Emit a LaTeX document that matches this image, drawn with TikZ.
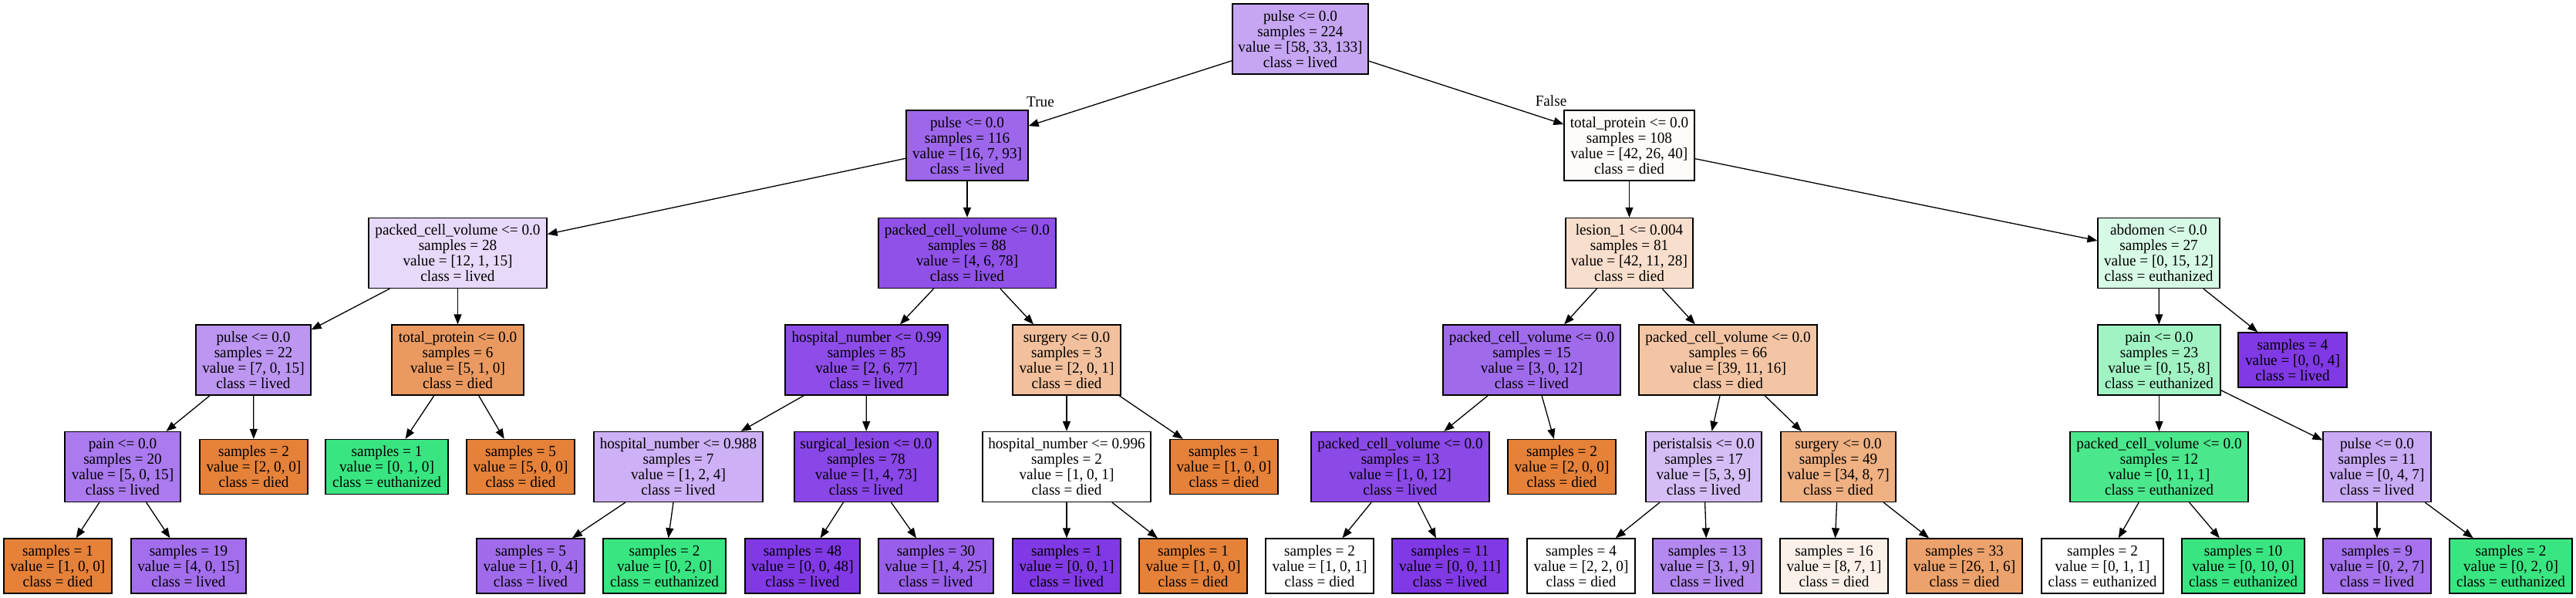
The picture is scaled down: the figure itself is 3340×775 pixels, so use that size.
\documentclass[tikz,border=0pt]{standalone}
\usepackage{fontspec}
\setmainfont{Liberation Serif}[FakeStretch=0.96]
\usetikzlibrary{arrows.meta}
\definecolor{died}{RGB}{229,129,57}
\definecolor{euth}{RGB}{57,229,129}
\definecolor{lived}{RGB}{129,57,229}
\newcommand\treefont{\fontsize{20}{20}\selectfont}
\begin{document}
\begin{tikzpicture}[x=1pt,y=-1pt,
  tbox/.style={draw=black, line width=1.3pt, rectangle, inner sep=0pt, align=center, font=\treefont, minimum height=91},
  leaf/.style={tbox, minimum height=71},
  edge/.style={line width=1.3pt, -{Triangle[length=13pt,width=10pt]}},
  elabel/.style={font=\treefont, inner sep=0pt}]
\useasboundingbox (0,0) rectangle (3340,775);
% level 0
\node[tbox, minimum width=176, fill=lived!45!white] (root) at (1686,50.5) {pulse <= 0.0\\samples = 224\\value = [58, 33, 133]\\class = lived};
% level 1
\node[tbox, minimum width=158, fill=lived!77!white] (A) at (1254,188.5) {pulse <= 0.0\\samples = 116\\value = [16, 7, 93]\\class = lived};
\node[tbox, minimum width=169, fill=died!3!white] (B) at (2112.5,188.5) {total\_protein <= 0.0\\samples = 108\\value = [42, 26, 40]\\class = died};
% level 2
\node[tbox, minimum width=231, fill=lived!19!white] (C) at (593.5,328) {packed\_cell\_volume <= 0.0\\samples = 28\\value = [12, 1, 15]\\class = lived};
\node[tbox, minimum width=230, fill=lived!88!white] (D) at (1254,328) {packed\_cell\_volume <= 0.0\\samples = 88\\value = [4, 6, 78]\\class = lived};
\node[tbox, minimum width=165, fill=died!26!white] (E) at (2112.5,328) {lesion\_1 <= 0.004\\samples = 81\\value = [42, 11, 28]\\class = died};
\node[tbox, minimum width=158, fill=euth!20!white] (F) at (2799,328) {abdomen <= 0.0\\samples = 27\\value = [0, 15, 12]\\class = euthanized};
% level 3
\node[tbox, minimum width=149, fill=lived!53!white] (G) at (328.5,466.5) {pulse <= 0.0\\samples = 22\\value = [7, 0, 15]\\class = lived};
\node[tbox, minimum width=171, fill=died!80!white] (H) at (593.5,466.5) {total\_protein <= 0.0\\samples = 6\\value = [5, 1, 0]\\class = died};
\node[tbox, minimum width=211, fill=lived!90!white] (I) at (1123.5,466.5) {hospital\_number <= 0.99\\samples = 85\\value = [2, 6, 77]\\class = lived};
\node[tbox, minimum width=140, fill=died!50!white] (J) at (1383,466.5) {surgery <= 0.0\\samples = 3\\value = [2, 0, 1]\\class = died};
\node[tbox, minimum width=230, fill=lived!75!white] (K) at (1986,466.5) {packed\_cell\_volume <= 0.0\\samples = 15\\value = [3, 0, 12]\\class = lived};
\node[tbox, minimum width=231, fill=died!46!white] (L) at (2240.5,466.5) {packed\_cell\_volume <= 0.0\\samples = 66\\value = [39, 11, 16]\\class = died};
\node[tbox, minimum width=159, fill=euth!47!white] (M) at (2799.5,466.5) {pain <= 0.0\\samples = 23\\value = [0, 15, 8]\\class = euthanized};
\node[leaf, minimum width=141, fill=lived] (N) at (2972.5,466.5) {samples = 4\\value = [0, 0, 4]\\class = lived};
% level 4
\node[tbox, minimum width=150, fill=lived!67!white] (O) at (159,605) {pain <= 0.0\\samples = 20\\value = [5, 0, 15]\\class = lived};
\node[leaf, minimum width=140, fill=died] (P) at (329,605) {samples = 2\\value = [2, 0, 0]\\class = died};
\node[leaf, minimum width=159, fill=euth] (Q) at (501.5,605) {samples = 1\\value = [0, 1, 0]\\class = euthanized};
\node[leaf, minimum width=140, fill=died] (R) at (675,605) {samples = 5\\value = [5, 0, 0]\\class = died};
\node[tbox, minimum width=219, fill=lived!40!white] (S) at (879.5,605) {hospital\_number <= 0.988\\samples = 7\\value = [1, 2, 4]\\class = lived};
\node[tbox, minimum width=186, fill=lived!93!white] (T) at (1123,605) {surgical\_lesion <= 0.0\\samples = 78\\value = [1, 4, 73]\\class = lived};
\node[tbox, minimum width=218, fill=white] (U) at (1383,605) {hospital\_number <= 0.996\\samples = 2\\value = [1, 0, 1]\\class = died};
\node[leaf, minimum width=140, fill=died] (V) at (1587,605) {samples = 1\\value = [1, 0, 0]\\class = died};
\node[tbox, minimum width=231, fill=lived!92!white] (W) at (1815.5,605) {packed\_cell\_volume <= 0.0\\samples = 13\\value = [1, 0, 12]\\class = lived};
\node[leaf, minimum width=140, fill=died] (X) at (2025,605) {samples = 2\\value = [2, 0, 0]\\class = died};
\node[tbox, minimum width=150, fill=lived!33!white] (Y) at (2209,605) {peristalsis <= 0.0\\samples = 17\\value = [5, 3, 9]\\class = lived};
\node[tbox, minimum width=149, fill=died!63!white] (Z) at (2383.5,605) {surgery <= 0.0\\samples = 49\\value = [34, 8, 7]\\class = died};
\node[tbox, minimum width=231, fill=euth!91!white] (AA) at (2799.5,605) {packed\_cell\_volume <= 0.0\\samples = 12\\value = [0, 11, 1]\\class = euthanized};
\node[tbox, minimum width=140, fill=lived!43!white] (AB) at (3082,605) {pulse <= 0.0\\samples = 11\\value = [0, 4, 7]\\class = lived};
% level 5
\node[leaf, minimum width=140, fill=died] (l1) at (75,733.5) {samples = 1\\value = [1, 0, 0]\\class = died};
\node[leaf, minimum width=149, fill=lived!73!white] (l2) at (244.5,733.5) {samples = 19\\value = [4, 0, 15]\\class = lived};
\node[leaf, minimum width=140, fill=lived!75!white] (l3) at (688,733.5) {samples = 5\\value = [1, 0, 4]\\class = lived};
\node[leaf, minimum width=159, fill=euth] (l4) at (861.5,733.5) {samples = 2\\value = [0, 2, 0]\\class = euthanized};
\node[leaf, minimum width=149, fill=lived] (l5) at (1040.5,733.5) {samples = 48\\value = [0, 0, 48]\\class = lived};
\node[leaf, minimum width=149, fill=lived!81!white] (l6) at (1213.5,733.5) {samples = 30\\value = [1, 4, 25]\\class = lived};
\node[leaf, minimum width=140, fill=lived] (l7) at (1383,733.5) {samples = 1\\value = [0, 0, 1]\\class = lived};
\node[leaf, minimum width=140, fill=died] (l8) at (1547,733.5) {samples = 1\\value = [1, 0, 0]\\class = died};
\node[leaf, minimum width=140, fill=white] (l9) at (1711,733.5) {samples = 2\\value = [1, 0, 1]\\class = died};
\node[leaf, minimum width=150, fill=lived] (l10) at (1880,733.5) {samples = 11\\value = [0, 0, 11]\\class = lived};
\node[leaf, minimum width=140, fill=white] (l11) at (2050,733.5) {samples = 4\\value = [2, 2, 0]\\class = died};
\node[leaf, minimum width=141, fill=lived!60!white] (l12) at (2213.5,733.5) {samples = 13\\value = [3, 1, 9]\\class = lived};
\node[leaf, minimum width=140, fill=died!11!white] (l13) at (2378,733.5) {samples = 16\\value = [8, 7, 1]\\class = died};
\node[leaf, minimum width=150, fill=died!74!white] (l14) at (2547,733.5) {samples = 33\\value = [26, 1, 6]\\class = died};
\node[leaf, minimum width=158, fill=white] (l15) at (2726,733.5) {samples = 2\\value = [0, 1, 1]\\class = euthanized};
\node[leaf, minimum width=159, fill=euth] (l16) at (2908.5,733.5) {samples = 10\\value = [0, 10, 0]\\class = euthanized};
\node[leaf, minimum width=140, fill=lived!71!white] (l17) at (3082,733.5) {samples = 9\\value = [0, 2, 7]\\class = lived};
\node[leaf, minimum width=159, fill=euth] (l18) at (3255.5,733.5) {samples = 2\\value = [0, 2, 0]\\class = euthanized};
% edge labels
\node[elabel] (lt) at (1349,132) {True};
\node[elabel] (lf) at (2011,131) {False};
% edges
\foreach \a/\b in {root/A,root/B,A/C,A/D,B/E,B/F,C/G,C/H,D/I,D/J,E/K,E/L,F/M,F/N,
  G/O,G/P,H/Q,H/R,I/S,I/T,J/U,J/V,K/W,K/X,L/Y,L/Z,M/AA,M/AB,
  O/l1,O/l2,S/l3,S/l4,T/l5,T/l6,U/l7,U/l8,W/l9,W/l10,Y/l11,Y/l12,Z/l13,Z/l14,AA/l15,AA/l16,AB/l17,AB/l18}
  \draw[edge] (\a) -- (\b);
\end{tikzpicture}
\end{document}
